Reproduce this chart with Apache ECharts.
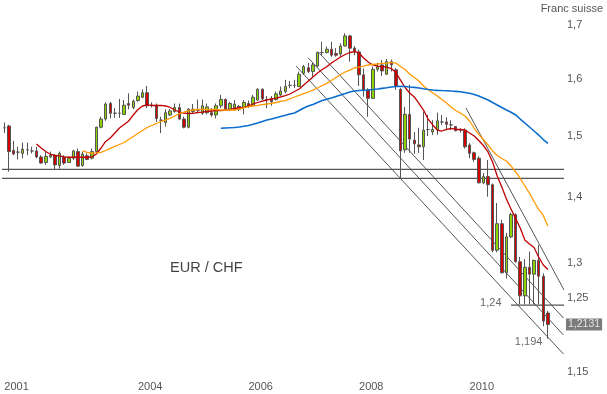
<!DOCTYPE html>
<html><head><meta charset="utf-8">
<script src="https://cdn.jsdelivr.net/npm/echarts@6/dist/echarts.min.js"></script>
<style>html,body{margin:0;padding:0;background:#fff}#c{width:607px;height:394px}</style>
</head><body><div id="c"></div>
<script>
// Monthly candles Aug 2001 .. Jun 2011 : [open, high, low, close]
const ohlc = [
[1.514,1.523,1.505,1.514],[1.517,1.519,1.441,1.474],[1.476,1.492,1.468,1.470],[1.473,1.482,1.461,1.473],
[1.471,1.489,1.463,1.478],[1.477,1.489,1.468,1.477],[1.475,1.482,1.471,1.475],[1.475,1.482,1.463,1.465],
[1.465,1.468,1.454,1.455],[1.456,1.474,1.452,1.466],[1.465,1.474,1.463,1.468],[1.468,1.470,1.445,1.452],
[1.451,1.474,1.446,1.471],[1.465,1.468,1.452,1.455],[1.456,1.466,1.455,1.463],[1.463,1.477,1.460,1.475],
[1.474,1.479,1.449,1.450],[1.451,1.474,1.449,1.470],[1.467,1.471,1.460,1.461],[1.463,1.479,1.461,1.474],
[1.474,1.516,1.472,1.515],[1.515,1.533,1.513,1.529],[1.529,1.558,1.526,1.555],[1.556,1.559,1.530,1.539],
[1.539,1.548,1.531,1.539],[1.539,1.564,1.531,1.539],[1.537,1.562,1.536,1.553],[1.556,1.574,1.546,1.553],
[1.549,1.563,1.546,1.560],[1.561,1.577,1.559,1.569],[1.567,1.581,1.565,1.575],[1.575,1.587,1.548,1.552],
[1.553,1.558,1.549,1.553],[1.553,1.556,1.524,1.530],[1.527,1.533,1.505,1.527],[1.523,1.546,1.516,1.540],
[1.536,1.546,1.534,1.543],[1.542,1.556,1.540,1.549],[1.549,1.556,1.527,1.529],[1.529,1.533,1.513,1.515],
[1.515,1.548,1.513,1.546],[1.542,1.555,1.539,1.546],[1.544,1.563,1.539,1.544],[1.539,1.563,1.536,1.552],
[1.540,1.556,1.537,1.550],[1.540,1.548,1.533,1.536],[1.536,1.556,1.530,1.552],[1.552,1.571,1.548,1.563],
[1.563,1.565,1.545,1.546],[1.546,1.559,1.543,1.556],[1.548,1.562,1.543,1.555],[1.551,1.553,1.543,1.546],
[1.549,1.562,1.537,1.558],[1.556,1.561,1.548,1.551],[1.553,1.571,1.552,1.567],[1.562,1.583,1.561,1.581],
[1.581,1.583,1.562,1.564],[1.563,1.569,1.548,1.563],[1.565,1.569,1.552,1.559],[1.563,1.577,1.561,1.573],
[1.571,1.586,1.569,1.578],[1.577,1.598,1.574,1.586],[1.588,1.596,1.583,1.588],[1.588,1.598,1.583,1.588],
[1.586,1.613,1.585,1.608],[1.610,1.625,1.607,1.622],[1.620,1.629,1.610,1.613],[1.613,1.629,1.604,1.625],
[1.623,1.649,1.621,1.648],[1.648,1.668,1.643,1.648],[1.648,1.659,1.646,1.654],[1.654,1.668,1.640,1.643],
[1.646,1.656,1.640,1.643],[1.645,1.665,1.640,1.660],[1.660,1.684,1.659,1.679],[1.679,1.681,1.631,1.656],
[1.656,1.660,1.643,1.649],[1.649,1.653,1.587,1.607],[1.607,1.619,1.568,1.580],[1.580,1.583,1.533,1.565],
[1.565,1.622,1.564,1.617],[1.617,1.629,1.613,1.622],[1.625,1.634,1.605,1.614],[1.608,1.636,1.607,1.631],
[1.631,1.635,1.613,1.625],[1.616,1.619,1.580,1.586],[1.581,1.583,1.430,1.475],[1.477,1.550,1.472,1.537],
[1.537,1.589,1.472,1.495],[1.493,1.507,1.470,1.487],[1.485,1.514,1.472,1.482],[1.482,1.542,1.460,1.510],
[1.511,1.536,1.500,1.511],[1.507,1.527,1.502,1.511],[1.511,1.540,1.502,1.526],[1.524,1.536,1.519,1.524],
[1.524,1.532,1.510,1.520],[1.519,1.527,1.510,1.519],[1.516,1.517,1.508,1.509],[1.510,1.513,1.506,1.510],
[1.510,1.513,1.479,1.482],[1.485,1.488,1.463,1.471],[1.472,1.474,1.457,1.461],[1.463,1.466,1.422,1.423],
[1.423,1.439,1.421,1.433],[1.433,1.460,1.401,1.420],[1.420,1.422,1.316,1.319],[1.319,1.391,1.316,1.359],
[1.359,1.365,1.285,1.286],[1.286,1.345,1.278,1.339],[1.339,1.376,1.337,1.373],[1.373,1.375,1.301,1.302],
[1.302,1.309,1.241,1.253],[1.253,1.306,1.241,1.294],[1.294,1.317,1.241,1.284],[1.284,1.305,1.241,1.304],
[1.304,1.327,1.241,1.281],[1.281,1.285,1.211,1.218],[1.229,1.232,1.194,1.2131]
];

// moving averages, with the index of their first month
const redStart = 7;
const maRed = [1.4866,1.4799,1.4741,1.4695,1.4675,1.4667,1.4651,1.4646,1.4646,1.4646,
1.4646,1.4646,1.4651,1.4700,1.4799,1.4908,1.4967,1.5051,1.5136,1.5196,
1.5256,1.5360,1.5455,1.5516,1.5534,1.5525,1.5525,1.5525,1.5516,1.5490,
1.5446,1.5411,1.5394,1.5385,1.5389,1.5403,1.5411,1.5420,1.5429,1.5434,
1.5437,1.5446,1.5458,1.5472,1.5481,1.5493,1.5516,1.5551,1.5577,1.5603,
1.5621,1.5639,1.5656,1.5674,1.5700,1.5727,1.5771,1.5815,1.5887,1.5958,
1.6030,1.6102,1.6166,1.6218,1.6285,1.6340,1.6396,1.6442,1.6479,1.6494,
1.6470,1.6377,1.6303,1.6249,1.6230,1.6221,1.6212,1.6184,1.6112,1.5976,
1.5842,1.5744,1.5674,1.5560,1.5446,1.5290,1.5188,1.5102,1.5085,1.5114,
1.5128,1.5111,1.5111,1.5102,1.5051,1.5001,1.4925,1.4841,1.4733,1.4568,
1.4340,1.4164,1.3974,1.3818,1.3670,1.3525,1.3343,1.3283,1.3231,1.3090,1.2973,1.2907];

const orangeStart = 17;
const maOrange = [1.4750,1.4725,1.4712,1.4717,1.4725,1.4758,1.4794,1.4825,1.4858,1.4891,
1.4941,1.4992,1.5043,1.5093,1.5145,1.5179,1.5213,1.5247,1.5273,1.5302,
1.5342,1.5385,1.5411,1.5437,1.5446,1.5455,1.5458,1.5458,1.5455,1.5455,
1.5446,1.5446,1.5446,1.5446,1.5464,1.5481,1.5504,1.5516,1.5525,1.5539,
1.5551,1.5560,1.5577,1.5595,1.5612,1.5639,1.5674,1.5704,1.5735,1.5762,
1.5797,1.5833,1.5878,1.5917,1.5967,1.6021,1.6075,1.6121,1.6157,1.6194,
1.6212,1.6230,1.6249,1.6258,1.6267,1.6280,1.6285,1.6298,1.6285,1.6221,
1.6166,1.6085,1.6021,1.5958,1.5869,1.5806,1.5744,1.5691,1.5630,1.5569,
1.5499,1.5437,1.5394,1.5342,1.5256,1.5136,1.5026,1.4941,1.4850,1.4750,
1.4675,1.4626,1.4585,1.4503,1.4405,1.4300,1.4180,1.4064,1.3935,1.3810,1.3717,1.3555];

const blueStart = 47;
const maBlue = [1.5131,1.5136,1.5141,1.5145,1.5153,1.5165,1.5179,1.5199,1.5222,1.5247,
1.5273,1.5290,1.5313,1.5333,1.5354,1.5377,1.5394,1.5437,1.5481,1.5516,
1.5542,1.5577,1.5612,1.5633,1.5656,1.5683,1.5709,1.5735,1.5762,1.5779,
1.5788,1.5793,1.5797,1.5806,1.5815,1.5827,1.5838,1.5851,1.5860,1.5863,
1.5860,1.5851,1.5845,1.5833,1.5819,1.5806,1.5797,1.5792,1.5788,1.5785,
1.5779,1.5774,1.5767,1.5753,1.5739,1.5718,1.5691,1.5656,1.5621,1.5577,
1.5534,1.5490,1.5446,1.5406,1.5360,1.5290,1.5222,1.5153,1.5085,1.5017,1.4941,1.4875];

// trend lines: [month index, price] pairs
const channelLines = [
  [[63.32,1.6230],[121.38,1.1736]],
  [[65.92,1.6386],[121.38,1.1990]],
  [[68.09,1.6497],[121.38,1.2221]],
  [[100.22,1.5481],[121.5,1.2613]]
];
const hLevels = [1.4448, 1.4303];
const supportLevel = 1.24;
const supportFrom = 110;
const lowValue = 1.194;
const lastValue = 1.2131;

const yTicks = [1.15, 1.25, 1.3, 1.4, 1.5, 1.6, 1.7];
const yearLabelMonths = ['2001-08','2004-01','2006-01','2008-01','2010-01'];
const firstYear = 2001, firstMonth = 8, monthCount = 122;

const months = [];
for (let k = 0; k < monthCount; k++) {
  const m = firstMonth - 1 + k;
  const y = firstYear + Math.floor(m / 12);
  const mm = (m % 12) + 1;
  months.push(y + '-' + (mm < 10 ? '0' + mm : mm));
}
const fmt = v => String(v).replace('.', ',');

const candleData = ohlc.map(r => {
  const item = { value: [r[0], r[3], r[2], r[1]] };
  if (r[0] === r[3]) item.itemStyle = { color: '#888', color0: '#888', borderColor: '#555', borderColor0: '#555' };
  return item;
});
const pad = (start, arr) => new Array(start).fill('-').concat(arr);

const N = monthCount;
const chart = echarts.init(document.getElementById('c'), null, { renderer: 'canvas' });
const series = [
  {
    type: 'candlestick', xAxisIndex: 0, yAxisIndex: 0, data: candleData, barWidth: 3,
    itemStyle: { color: '#8cd400', color0: '#d40000', borderColor: '#555', borderColor0: '#555', borderColorDoji: '#555', borderWidth: 1 },
    z: 3
  },
  { type: 'line', data: pad(redStart, maRed), symbol: 'none', lineStyle: { color: '#c00000', width: 1.3 }, z: 4 },
  { type: 'line', data: pad(orangeStart, maOrange), symbol: 'none', lineStyle: { color: '#ff9900', width: 1.3 }, z: 4 },
  { type: 'line', data: pad(blueStart, maBlue), symbol: 'none', lineStyle: { color: '#0a6ccc', width: 1.6 }, z: 4 }
];
channelLines.forEach(l => series.push({
  type: 'line', xAxisIndex: 1, data: l, symbol: 'none', lineStyle: { color: '#555', width: 1 }, z: 2
}));
hLevels.forEach(v => series.push({
  type: 'line', xAxisIndex: 1, data: [[-0.5, v], [N - 0.5, v]], symbol: 'none', lineStyle: { color: '#555', width: 1.3 }, z: 2
}));
series.push({
  type: 'line', xAxisIndex: 1, data: [[supportFrom, supportLevel], [N - 0.5, supportLevel]], symbol: 'none',
  lineStyle: { color: '#555', width: 1.3 }, z: 2
});
series.push({
  type: 'scatter', xAxisIndex: 1, symbolSize: 1, itemStyle: { color: 'rgba(0,0,0,0)' }, clip: false, z: 6,
  data: [
    { value: [supportFrom, supportLevel], label: { show: true, position: 'left', distance: 9, offset: [0, -2], formatter: fmt(supportLevel), color: '#444', fontSize: 11 } },
    { value: [ohlc.length - 1, lowValue], label: { show: true, position: 'left', distance: 5, offset: [0, 3], formatter: fmt(lowValue), color: '#444', fontSize: 11 } },
    { value: [N - 0.5, lastValue], label: { show: true, position: 'right', distance: 1.5, formatter: fmt(lastValue), color: '#fff', fontSize: 10.5, backgroundColor: '#5a5a5a', padding: [1, 2, 0, 2] } }
  ]
});

chart.setOption({
  animation: false,
  textStyle: { fontFamily: 'Liberation Sans, Arial, sans-serif' },
  title: [
    { text: 'Franc suisse', right: 4, top: 3, padding: 0, textStyle: { fontSize: 11, fontWeight: 'normal', color: '#555' } },
    { text: 'EUR / CHF', left: 170, top: 260, padding: 0, textStyle: { fontSize: 14.5, fontWeight: 'normal', color: '#444' } }
  ],
  grid: { left: 2, right: 43, top: 4.2, bottom: 14.2 },
  xAxis: [
    {
      type: 'category', data: months, boundaryGap: true,
      axisLine: { show: false }, axisTick: { show: false }, splitLine: { show: false },
      axisLabel: {
        interval: (i, v) => yearLabelMonths.indexOf(v) >= 0,
        formatter: v => v.slice(0, 4), align: 'left', margin: 2, color: '#555', fontSize: 11
      }
    },
    { type: 'value', min: -0.5, max: N - 0.5, show: false }
  ],
  yAxis: {
    type: 'log', logBase: 10, min: 1.14, max: 1.74, position: 'right',
    axisLine: { show: false }, axisTick: { show: false }, splitLine: { show: false },
    axisLabel: { customValues: yTicks, formatter: v => fmt(v), color: '#555', fontSize: 11, margin: 3 }
  },
  series
});
</script></body></html>
